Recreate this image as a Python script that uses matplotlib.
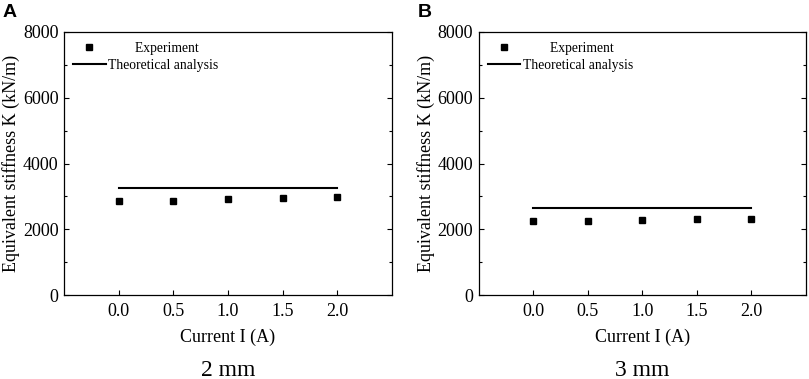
import matplotlib
matplotlib.use("Agg")
import matplotlib.pyplot as plt
from matplotlib.ticker import MultipleLocator

current = [0.0, 0.5, 1.0, 1.5, 2.0]
exp_2mm = [2860, 2860, 2920, 2950, 2980]
theory_2mm = [3270, 3270, 3270, 3270, 3270]
exp_3mm = [2250, 2260, 2290, 2310, 2310]
theory_3mm = [2650, 2650, 2650, 2650, 2650]
panels = ["A", "B"]
gaps = ["2 mm", "3 mm"]
xticks = [0.0, 0.5, 1.0, 1.5, 2.0]
yticks = [0, 2000, 4000, 6000, 8000]

plt.rcParams['font.family'] = ['Liberation Serif', 'DejaVu Serif']

fig = plt.figure(figsize=(8.09, 3.79), dpi=100)
positions = [[0.0791, 0.2216, 0.4054, 0.694], [0.592, 0.2216, 0.4042, 0.694]]
data = [(exp_2mm, theory_2mm), (exp_3mm, theory_3mm)]

for i, (pos, (ex, th)) in enumerate(zip(positions, data)):
    ax = fig.add_axes(pos)
    ax.plot(current, th, color='black', lw=1.5, label='Theoretical analysis')
    ax.plot(current, ex, 's', color='black', ms=4.8, ls='none', label='Experiment')
    ax.set_xlim(-0.5, 2.5)
    ax.set_ylim(0, 8000)
    ax.set_xticks(xticks)
    ax.set_xticklabels([f"{v:.1f}" for v in xticks])
    ax.set_yticks(yticks)
    ax.yaxis.set_minor_locator(MultipleLocator(1000))
    ax.tick_params(axis='both', which='both', direction='in', labelsize=13,
                   right=True, top=False, width=0.8, colors='black')
    ax.tick_params(axis='x', which='major', length=3.5, pad=6)
    ax.tick_params(axis='y', which='major', length=3.5, pad=4)
    ax.tick_params(axis='y', which='minor', length=2.5)
    for sp in ax.spines.values():
        sp.set_linewidth(0.9)
    ax.set_ylabel('Equivalent stiffness K (kN/m)', fontsize=13, labelpad=2)
    ax.set_xlabel('Current I (A)', fontsize=13, labelpad=6)
    handles, labels = ax.get_legend_handles_labels()
    ax.legend([handles[1], handles[0]], ['        Experiment', 'Theoretical analysis'],
              loc='upper left', frameon=False, fontsize=9.8,
              handlelength=2.4, handletextpad=0.2, labelspacing=0.25,
              borderaxespad=0.25, bbox_to_anchor=(0.0, 0.995))
    fig.text(pos[0] + pos[2] / 2, 9 / 379, gaps[i], ha='center', va='center',
             fontsize=17)
    fig.text(pos[0] - 0.076, 0.99, panels[i], ha='left', va='top',
             fontsize=14, fontweight='bold', family='Liberation Sans')

fig.savefig('out.png', dpi=100)
